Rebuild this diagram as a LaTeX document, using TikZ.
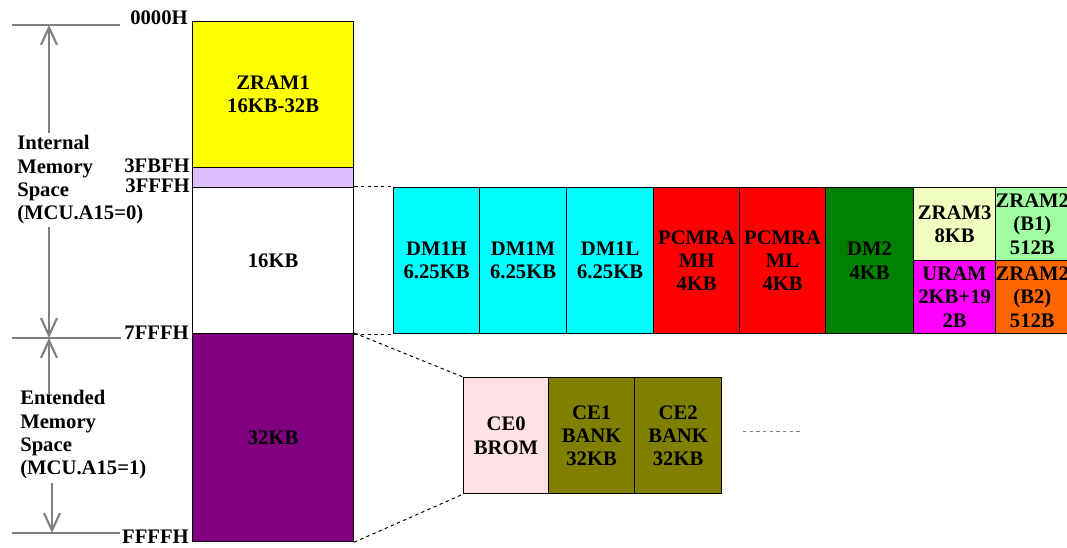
\documentclass[tikz,border=0pt]{standalone}
\usepackage{fontspec}
\setmainfont{Liberation Serif}
\usepackage{xcolor}
\usepackage{tikz}
\usetikzlibrary{arrows.meta}
\definecolor{memyellow}{RGB}{255,255,0}
\definecolor{memlilac}{RGB}{221,190,255}
\definecolor{memcyan}{RGB}{0,255,255}
\definecolor{memred}{RGB}{255,0,0}
\definecolor{memgreen}{RGB}{0,128,0}
\definecolor{memcream}{RGB}{240,255,192}
\definecolor{memmint}{RGB}{160,255,160}
\definecolor{memmagenta}{RGB}{255,0,255}
\definecolor{memorange}{RGB}{255,102,0}
\definecolor{mempink}{RGB}{255,224,228}
\definecolor{memolive}{RGB}{128,128,0}
\definecolor{mempurple}{RGB}{128,0,128}
\definecolor{memgray}{RGB}{128,128,128}
\newcommand{\memfont}{\fontsize{15.5}{17.5}\selectfont\bfseries}

\begin{document}
\begin{tikzpicture}[
    x=0.75pt, y=-0.75pt,
    blk/.style 2 args={draw, line width=0.9pt, anchor=north west,
                       inner sep=0pt, align=center,
                       minimum width=#1*0.75pt, minimum height=#2*0.75pt,
                       font=\memfont},
    addr/.style={anchor=east, inner sep=0pt, font=\memfont},
    side/.style={anchor=west, align=left, inner sep=0pt, font=\memfont},
    guide/.style={draw=memgray, line width=1.6pt},
    garr/.style={guide, -{Straight Barb[length=13pt, width=12pt, line width=1.6pt]}},
    link/.style={dash pattern=on 2.5pt off 2.5pt, line width=0.75pt},
  ]
    \useasboundingbox (0,0) rectangle (1067,548);

    % Main address column
    \node[blk={161}{146}, fill=memyellow] (zram1) at (192,21) {ZRAM1\\16KB-32B};
    \node[blk={161}{20},  fill=memlilac]  (rsv)   at (192,167) {};
    \node[blk={161}{146}, fill=white]     (int16) at (192,187) {16KB};
    \node[blk={161}{208}, fill=mempurple] (ext32) at (192,333) {32KB};

    % Addresses
    \node[addr] (a0000) at (188,18)  {0000H};
    \node[addr] (a3fbf) at (190,166) {3FBFH};
    \node[addr] (a3fff) at (190,186) {3FFFH};
    \node[addr] (a7fff) at (189,333) {7FFFH};
    \node[addr] (affff) at (189,537) {FFFFH};

    % Space labels
    \node[side] (intlbl) at (17,180) {Internal\\Memory\\Space\\(MCU.A15=0)};
    \node[side] (extlbl) at (20,435) {Entended\\Memory\\Space\\(MCU.A15=1)};

    % Internal 16KB detail
    \node[blk={86}{146}, fill=memcyan]  (dm1h) at (393,187) {DM1H\\6.25KB};
    \node[blk={87}{146}, fill=memcyan]  (dm1m) at (479,187) {DM1M\\6.25KB};
    \node[blk={87}{146}, fill=memcyan]  (dm1l) at (566,187) {DM1L\\6.25KB};
    \node[blk={86}{146}, fill=memred]   (pcmh) at (653,187) {PCMRA\\MH\\4KB};
    \node[blk={86}{146}, fill=memred]   (pcml) at (739,187) {PCMRA\\ML\\4KB};
    \node[blk={88}{146}, fill=memgreen] (dm2)  at (825,187) {DM2\\4KB};
    \node[blk={82}{73}, fill=memcream]   (zram3)  at (913,187) {ZRAM3\\8KB};
    \node[blk={82}{73}, fill=memmagenta] (uram)   at (913,260) {URAM\\2KB+19\\2B};
    \node[blk={73}{73}, fill=memmint]    (zram2a) at (995,187) {ZRAM2\\(B1)\\512B};
    \node[blk={73}{73}, fill=memorange]  (zram2b) at (995,260) {ZRAM2\\(B2)\\512B};

    % Extended banks
    \node[blk={85}{116}, fill=mempink]  (ce0) at (463,377) {CE0\\BROM};
    \node[blk={86}{116}, fill=memolive] (ce1) at (548,377) {CE1\\BANK\\32KB};
    \node[blk={87}{116}, fill=memolive] (ce2) at (634,377) {CE2\\BANK\\32KB};
    \coordinate (more1) at (743,432);
    \coordinate (more2) at (800,432);

    \draw[link] (int16.north east) -- (dm1h.north west);
    \draw[link] (int16.south east) -- (dm1h.south west);
    \draw[link] (ext32.north east) -- (ce0.north west);
    \draw[link] (ext32.south east) -- (ce0.south west);
    \draw[link, draw=memgray] (more1) -- (more2);

    % Range marks
    \coordinate (t1) at (12,25);  \coordinate (t2) at (120,25);
    \coordinate (m1) at (12,338); \coordinate (m2) at (121,338);
    \coordinate (b1) at (12,533); \coordinate (b2) at (120,533);
    \draw[guide] (t1) -- (t2);
    \draw[guide] (m1) -- (m2);
    \draw[guide] (b1) -- (b2);
    \draw[garr] (49,133) -- (49,25);
    \draw[garr] (49,227) -- (49,338);
    \draw[garr] (49,395) -- (49,338);
    \draw[garr] (52,483) -- (52,533);
  \end{tikzpicture}
\end{document}
